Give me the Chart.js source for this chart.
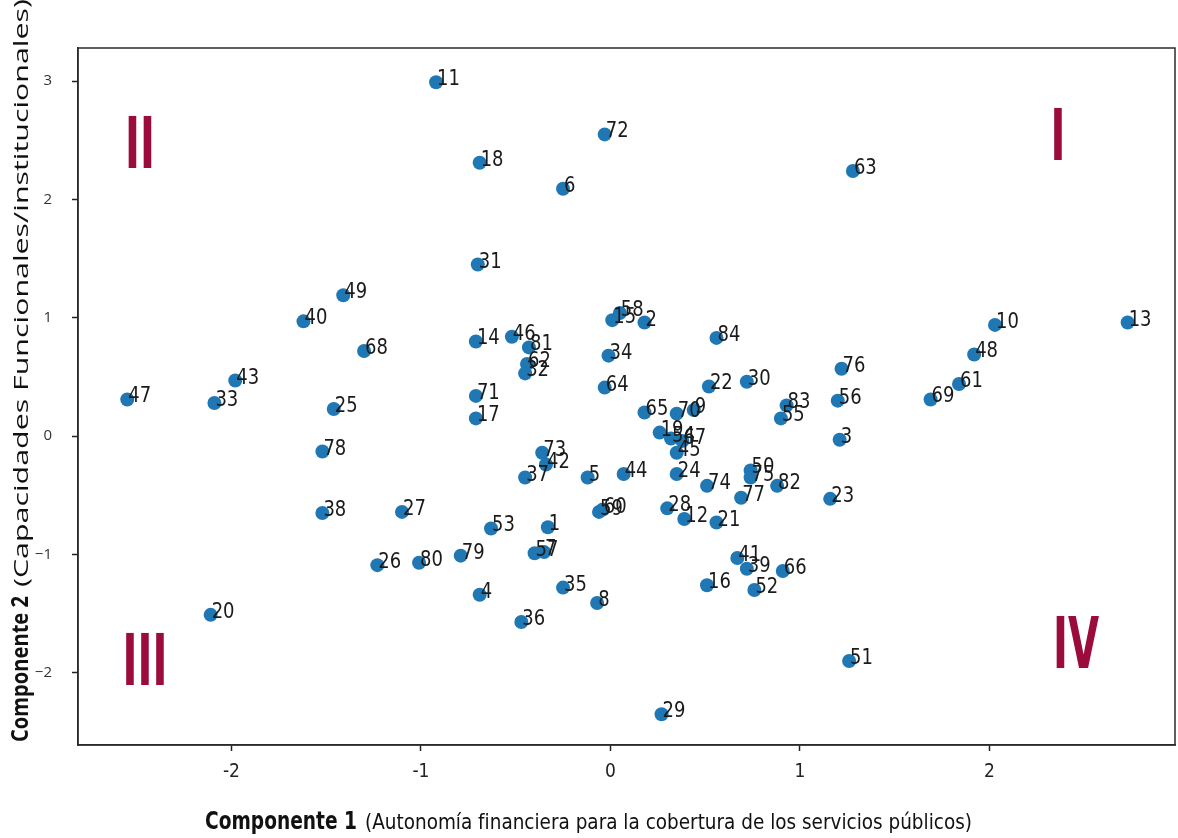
<!DOCTYPE html>
<html lang="es">
<head>
    <meta charset="UTF-8">
    <title>Componentes principales por municipio</title>
    <script src="https://cdn.jsdelivr.net/npm/chart.js"></script>
    <style>
        body {
            margin: 0;
            background: white;
        }
        #wrap {
            width: 1178px;
            height: 838px;
        }
        canvas {
            display: block;
        }
    </style>
</head>
<body>

<div id="wrap"><canvas id="pcaChart" width="1178" height="838"></canvas></div>

<script>
    // municipality ids and their scores on the two components
    const municipios = [1, 2, 3, 4, 5, 6, 7, 8, 9, 10, 11, 12, 13, 14, 15, 16, 17, 18, 19, 20,
        21, 22, 23, 24, 25, 26, 27, 28, 29, 30, 31, 32, 33, 34, 35, 36, 37, 38, 39, 40,
        41, 42, 43, 44, 45, 46, 47, 48, 49, 50, 51, 52, 53, 54, 55, 56, 57, 58, 59, 60,
        61, 62, 63, 64, 65, 66, 67, 68, 69, 70, 71, 72, 73, 74, 75, 76, 77, 78, 79, 80,
        81, 82, 83, 84];

    const comp1 = [-0.33, 0.18, 1.21, -0.69, -0.12, -0.25, -0.35, -0.07, 0.44, 2.03,
        -0.92, 0.39, 2.73, -0.71, 0.01, 0.51, -0.71, -0.69, 0.26, -2.11,
        0.56, 0.52, 1.16, 0.35, -1.46, -1.23, -1.10, 0.30, 0.27, 0.72,
        -0.70, -0.45, -2.09, -0.01, -0.25, -0.47, -0.45, -1.52, 0.72, -1.62,
        0.67, -0.34, -1.98, 0.07, 0.35, -0.52, -2.55, 1.92, -1.41, 0.74,
        1.26, 0.76, -0.63, 0.32, 0.90, 1.20, -0.40, 0.05, -0.06, -0.04,
        1.84, -0.44, 1.28, -0.03, 0.18, 0.91, 0.38, -1.30, 1.69, 0.35,
        -0.71, -0.03, -0.36, 0.51, 0.74, 1.22, 0.69, -1.52, -0.79, -1.01,
        -0.43, 0.88, 0.93, 0.56];

    const comp2 = [-0.77, 0.96, -0.03, -1.34, -0.35, 2.09, -0.98, -1.41, 0.22, 0.94,
        2.99, -0.70, 0.96, 0.80, 0.98, -1.26, 0.15, 2.31, 0.03, -1.51,
        -0.73, 0.42, -0.53, -0.32, 0.23, -1.09, -0.64, -0.61, -2.35, 0.46,
        1.45, 0.53, 0.28, 0.68, -1.28, -1.57, -0.35, -0.65, -1.12, 0.97,
        -1.03, -0.24, 0.47, -0.32, -0.14, 0.84, 0.31, 0.69, 1.19, -0.29,
        -1.90, -1.30, -0.78, -0.02, 0.15, 0.30, -0.99, 1.04, -0.64, -0.62,
        0.44, 0.61, 2.24, 0.41, 0.20, -1.14, -0.04, 0.72, 0.31, 0.19,
        0.34, 2.55, -0.14, -0.42, -0.35, 0.57, -0.52, -0.13, -1.01, -1.07,
        0.75, -0.42, 0.26, 0.83];

    const xTicks = [-2, -1, 0, 1, 2];
    const yTicks = [-2, -1, 0, 1, 2, 3];
    const cuadrantes = ['I', 'II', 'III', 'IV'];

    const puntos = municipios.map((id, i) => ({ x: comp1[i], y: comp2[i] }));

    // number next to each point
    const pointLabels = {
        id: 'pointLabels',
        afterDatasetsDraw(chart) {
            const ctx = chart.ctx;
            const meta = chart.getDatasetMeta(0);
            ctx.save();
            ctx.font = '18px "DejaVu Sans", sans-serif';
            ctx.fillStyle = '#1a1a1a';
            ctx.textAlign = 'left';
            ctx.textBaseline = 'alphabetic';
            meta.data.forEach((pt, i) => {
                ctx.save();
                ctx.translate(pt.x + 1, pt.y + 3);
                ctx.scale(1, 1.15);
                ctx.fillText(String(municipios[i]), 0, 0);
                ctx.restore();
            });
            ctx.restore();
        }
    };

    // draws a run of text pieces, each squeezed/stretched to its own length
    function drawFitted(ctx, parts) {
        let pos = 0;
        parts.forEach(p => {
            ctx.font = p.font;
            const w = ctx.measureText(p.text).width;
            ctx.save();
            ctx.translate(pos, 0);
            ctx.scale(p.len / w, 1);
            ctx.fillText(p.text, 0, 0);
            ctx.restore();
            pos += p.len + (p.gap || 0);
        });
    }

    // frame, axis titles and the quadrant numerals
    const decor = {
        id: 'decor',
        afterDraw(chart) {
            const ctx = chart.ctx;
            const a = chart.chartArea;
            ctx.save();

            ctx.strokeStyle = '#2b2b2b';
            ctx.lineWidth = 1.5;
            ctx.strokeRect(a.left, a.top, a.right - a.left, a.bottom - a.top);

            ctx.fillStyle = '#111';
            ctx.textAlign = 'left';
            ctx.textBaseline = 'alphabetic';

            // x axis title
            ctx.save();
            ctx.translate(205, 829);
            drawFitted(ctx, [
                { text: 'Componente 1', font: 'bold 24px "Liberation Sans Narrow", "DejaVu Sans Condensed", sans-serif', len: 152, gap: 8 },
                { text: '(Autonomía financiera para la cobertura de los servicios públicos)', font: '22px "Liberation Sans Narrow", "DejaVu Sans Condensed", sans-serif', len: 607 }
            ]);
            ctx.restore();

            // y axis title
            ctx.save();
            ctx.translate(28, 742);
            ctx.rotate(-Math.PI / 2);
            drawFitted(ctx, [
                { text: 'Componente 2', font: 'bold 23px "Open Sans", sans-serif', len: 146, gap: 9 },
                { text: '(Capacidades Funcionales/institucionales)', font: '20px "Open Sans", sans-serif', len: 588 }
            ]);
            ctx.restore();

            // quadrant numerals
            ctx.fillStyle = '#9b0b3c';
            ctx.textAlign = 'center';
            const sitios = {
                'I': [a.left + 980, a.top + 112],
                'II': [a.left + 62, a.top + 120],
                'III': [a.left + 67, a.top + 637],
                'IV': [a.left + 998, a.top + 620]
            };
            ctx.font = 'bold 72px "Liberation Sans Narrow", "DejaVu Sans Condensed", sans-serif';
            cuadrantes.forEach(q => {
                const [cx, by] = sitios[q];
                ctx.save();
                ctx.translate(cx, by);
                ctx.scale(0.62, 1.0);
                ctx.fillText(q, 0, 0);
                ctx.restore();
            });

            ctx.restore();
        }
    };

    const ctx1 = document.getElementById('pcaChart').getContext('2d');
    new Chart(ctx1, {
        type: 'scatter',
        data: {
            datasets: [{
                label: 'Municipios',
                data: puntos,
                backgroundColor: '#1f77b4',
                borderWidth: 0,
                pointRadius: 7,
                pointHoverRadius: 7
            }]
        },
        options: {
            responsive: false,
            animation: false,
            devicePixelRatio: 1,
            layout: {
                autoPadding: false,
                padding: { top: 48, right: 3, left: 0, bottom: 0 }
            },
            scales: {
                x: {
                    type: 'linear',
                    min: -2.81,
                    max: 2.98,
                    afterBuildTicks: s => { s.ticks = xTicks.map(v => ({ value: v })); },
                    afterFit: s => { s.height = 93; },
                    grid: { drawOnChartArea: false, drawTicks: true, tickLength: 6, tickColor: '#222', tickWidth: 1.5 },
                    border: { display: true, color: '#2b2b2b', width: 1.5 },
                    ticks: {
                        padding: 10,
                        color: '#222',
                        font: { family: '"Liberation Sans Narrow", "DejaVu Sans Condensed", sans-serif', size: 19 },
                        callback: v => String(v)
                    }
                },
                y: {
                    type: 'linear',
                    min: -2.61,
                    max: 3.28,
                    afterBuildTicks: s => { s.ticks = yTicks.map(v => ({ value: v })); },
                    afterFit: s => { s.width = 78; },
                    grid: { drawOnChartArea: false, drawTicks: true, tickLength: 6, tickColor: '#222', tickWidth: 1.5 },
                    border: { display: true, color: '#2b2b2b', width: 1.5 },
                    ticks: {
                        padding: 20,
                        color: '#333',
                        font: { family: '"Open Sans", sans-serif', size: 15 },
                        callback: v => v < 0 ? '\u2212' + Math.abs(v) : String(v)
                    }
                }
            },
            plugins: {
                legend: { display: false },
                tooltip: { enabled: false }
            }
        },
        plugins: [pointLabels, decor]
    });
</script>

</body>
</html>
